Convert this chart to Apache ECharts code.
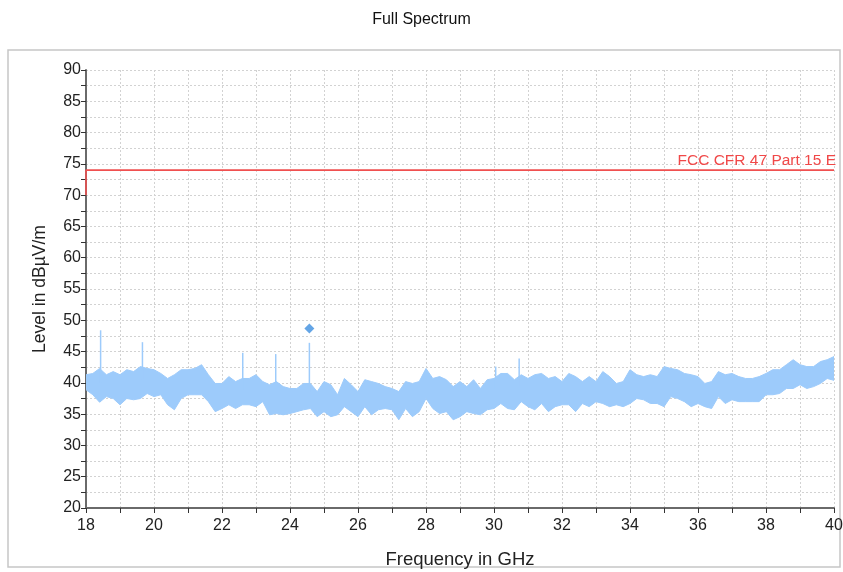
<!DOCTYPE html>
<html>
<head>
<meta charset="utf-8">
<script src="https://cdn.jsdelivr.net/npm/echarts@6/dist/echarts.min.js"></script>
<style>
html,body{margin:0;padding:0;background:#fff;}
#chart{width:843px;height:572px;}
</style>
</head>
<body>
<div id="chart"></div>
<script>
// ---- data ----
const freqs = [18.0,18.2,18.4,18.6,18.8,19.0,19.2,19.4,19.6,19.8,20.0,20.2,20.4,20.6,20.8,21.0,21.2,21.4,21.6,21.8,
  22.0,22.2,22.4,22.6,22.8,23.0,23.2,23.4,23.6,23.8,24.0,24.2,24.4,24.6,24.8,25.0,25.2,25.4,25.6,25.8,
  26.0,26.2,26.4,26.6,26.8,27.0,27.2,27.4,27.6,27.8,28.0,28.2,28.4,28.6,28.8,29.0,29.2,29.4,29.6,29.8,
  30.0,30.2,30.4,30.6,30.8,31.0,31.2,31.4,31.6,31.8,32.0,32.2,32.4,32.6,32.8,33.0,33.2,33.4,33.6,33.8,
  34.0,34.2,34.4,34.6,34.8,35.0,35.2,35.4,35.6,35.8,36.0,36.2,36.4,36.6,36.8,37.0,37.2,37.4,37.6,37.8,
  38.0,38.2,38.4,38.6,38.8,39.0,39.2,39.4,39.6,39.8,40.0];
const upperLevel = [41.3,41.5,42.3,41.3,41.8,41.3,42.1,41.8,42.6,42.3,42.1,41.5,40.7,41.3,42.1,42.1,42.3,42.9,41.3,39.9,
  39.9,41.0,40.2,40.7,40.7,41.3,40.2,39.7,40.2,39.4,39.1,39.1,39.9,39.9,38.6,40.2,39.7,38.1,40.7,39.7,
  38.6,40.5,40.2,39.9,39.4,39.1,38.6,40.2,39.9,40.2,42.3,40.7,41.0,40.5,39.4,40.2,39.4,40.5,39.1,40.5,
  40.7,41.5,41.5,40.5,41.3,40.7,41.3,41.5,40.7,41.0,40.2,41.5,41.0,40.2,41.0,40.2,41.8,41.0,39.9,40.2,
  42.1,41.3,41.0,41.3,41.0,42.6,42.3,42.1,41.5,41.3,41.0,39.9,40.2,41.8,41.3,41.5,41.0,40.7,40.7,41.0,
  41.5,42.1,42.1,42.9,43.7,42.9,42.6,42.6,43.4,43.7,44.2];
const lowerLevel = [38.9,38.1,36.9,37.8,37.5,36.5,37.5,37.3,37.5,38.3,37.8,38.1,36.5,35.7,37.5,38.1,38.1,38.1,37.0,35.4,
  35.9,36.5,35.9,36.5,36.5,36.2,37.0,34.9,35.1,34.9,35.1,35.4,35.7,35.9,34.6,35.4,34.6,34.9,36.2,35.4,
  34.6,36.2,34.9,35.7,35.9,35.7,34.1,35.9,34.6,35.4,37.5,35.9,35.1,35.4,34.1,34.6,35.4,35.1,34.9,35.7,
  35.9,36.7,35.9,35.7,37.0,36.2,35.7,36.7,35.4,36.2,36.5,36.5,35.4,36.7,36.2,37.0,36.7,36.2,36.5,36.2,
  36.7,37.5,37.3,36.7,36.7,36.2,37.8,37.5,37.0,36.2,36.7,36.2,35.9,37.8,36.7,37.3,37.0,37.0,37.0,37.0,
  38.1,38.1,38.3,39.1,39.1,39.7,39.1,39.4,39.9,40.7,40.4];
// narrow spikes: [frequency GHz, peak level, base level]
const spikes = [[18.43,48.4,40.0],[19.66,46.5,40.5],[22.61,44.8,39.0],[23.58,44.6,38.0],[24.57,46.4,38.5],[30.05,42.6,39.0],[30.74,43.9,39.5]];
const peakMarker = [[24.57,48.7]];
const limitFreq = [18, 18, 40];
const limitLevel = [70, 74, 74];
const limitName = 'FCC CFR 47 Part 15 E';
const xTicks = {min:18, max:40, step:2};
const yTicks = {min:20, max:90, step:5};

const FONT = 'Liberation Sans, Arial, sans-serif';
const chart = echarts.init(document.getElementById('chart'), null, {renderer:'canvas'});

const limitData = limitFreq.map((f,i)=>{
  const item = {value:[f, limitLevel[i]]};
  if (i === limitFreq.length-1) {
    item.label = {show:true, formatter:limitName, position:[0,0], align:'right', verticalAlign:'bottom',
      offset:[2,-1], color:'#f04848', fontSize:15.5, fontFamily:FONT};
  }
  return item;
});

const gridStyle = {show:true, lineStyle:{color:'#d2d2d2', type:[2,2], width:1}};

chart.setOption({
  backgroundColor:'#fff',
  animation:false,
  title:{text:'Full Spectrum', left:'center', top:7,
    textStyle:{fontSize:16, fontWeight:'normal', color:'#111', fontFamily:FONT}},
  graphic:[{type:'rect', shape:{x:8, y:50, width:832, height:517}, z:-10,
    style:{fill:'none', stroke:'#c6c6c6', lineWidth:1.5}}],
  grid:{left:86, right:9, top:70, bottom:64, containLabel:false, outerBoundsMode:'none'},
  xAxis:{type:'value', min:xTicks.min, max:xTicks.max, interval:xTicks.step,
    name:'Frequency in GHz', nameLocation:'middle', nameGap:42,
    nameTextStyle:{fontSize:18.5, color:'#222', fontFamily:FONT},
    axisLine:{show:true, onZero:false, lineStyle:{color:'#6a6a6a', width:2}},
    axisTick:{show:true, length:5, inside:false, lineStyle:{color:'#333', width:1}},
    minorTick:{show:true, splitNumber:2, length:5, lineStyle:{color:'#333', width:1}},
    axisLabel:{fontSize:16, color:'#222', margin:10, fontFamily:FONT},
    splitLine:gridStyle, minorSplitLine:gridStyle},
  yAxis:{type:'value', min:yTicks.min, max:yTicks.max, interval:yTicks.step,
    name:'Level in dBµV/m', nameLocation:'middle', nameGap:37, nameRotate:90,
    nameTextStyle:{fontSize:17.5, color:'#222', fontFamily:FONT},
    axisLine:{show:true, onZero:false, lineStyle:{color:'#6a6a6a', width:2}},
    axisTick:{show:true, length:5, lineStyle:{color:'#333', width:1}},
    minorTick:{show:true, splitNumber:2, length:5, lineStyle:{color:'#333', width:1}},
    axisLabel:{fontSize:16, color:'#222', margin:5, fontFamily:FONT},
    splitLine:gridStyle, minorSplitLine:gridStyle},
  series:[
    {type:'custom', name:'band', clip:true, z:3,
      data:[[freqs[0], upperLevel[0]]],
      renderItem:function(params, api){
        const pts = [];
        for (let i=0;i<freqs.length;i++) pts.push(api.coord([freqs[i], upperLevel[i]]));
        for (let i=freqs.length-1;i>=0;i--) pts.push(api.coord([freqs[i], lowerLevel[i]]));
        return {type:'polygon', shape:{points:pts}, style:{fill:'#9dcbfb', stroke:'#9dcbfb', lineWidth:1}};
      }},
    {type:'custom', name:'spikes', clip:true, z:3,
      data:spikes,
      renderItem:function(params, api){
        const a = api.coord([api.value(0), api.value(2)]);
        const b = api.coord([api.value(0), api.value(1)]);
        return {type:'line', shape:{x1:a[0], y1:a[1], x2:b[0], y2:b[1]},
          style:{stroke:'#9dcbfb', lineWidth:1.5}};
      }},
    {type:'line', name:limitName, data:limitData, showSymbol:true, symbol:'circle', symbolSize:0,
      lineStyle:{color:'#f05050', width:1.6}, itemStyle:{color:'#f05050'}, z:4, silent:true},
    {type:'scatter', name:'peak', data:peakMarker, symbol:'diamond', symbolSize:10,
      itemStyle:{color:'#3d8fe0'}, z:5}
  ]
});
</script>
</body>
</html>
